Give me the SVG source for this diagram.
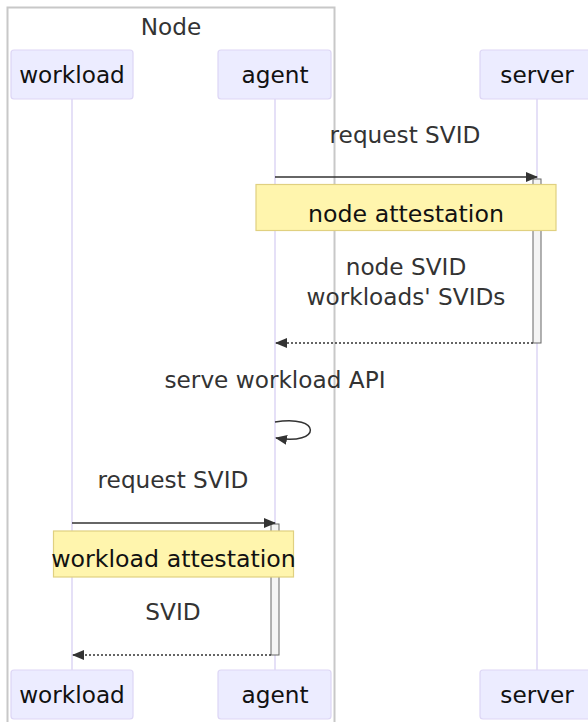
<svg xmlns="http://www.w3.org/2000/svg" width="588" height="722" viewBox="0 0 588 722">
  <style>
    text { font-family: "DejaVu Sans", "Liberation Sans", sans-serif; text-anchor: middle; }
    .actor rect { fill: #ececff; stroke: #ddd6f5; stroke-width: 1.2; }
    .actor text { font-size: 23.2px; fill: #111; }
    .lifeline { stroke: #ddd6f5; stroke-width: 1.5; }
    .msg-text { font-size: 23.2px; fill: #333; }
    .msg { stroke: #333; stroke-width: 1.5; fill: none; }
    .reply { stroke: #333; stroke-width: 1.5; stroke-dasharray: 2 2; fill: none; }
    .activation { fill: #f4f4f4; stroke: #666; stroke-width: 1; }
    .note rect { fill: #fff5ad; stroke: #e0d080; stroke-width: 1.2; }
    .note text { font-size: 23.7px; fill: #111; }
    .box-frame { fill: none; stroke: #c8c8c8; stroke-width: 2; }
    .box-label { font-size: 23.2px; fill: #333; }
  </style>
  <defs>
    <marker id="arrowhead" viewBox="0 0 12 10" refX="11" refY="5" markerUnits="userSpaceOnUse" markerWidth="12" markerHeight="10" orient="auto-start-reverse">
      <path d="M0,0 L12,5 L0,10 z" fill="#333"/>
    </marker>
  </defs>

  <rect width="588" height="722" fill="#ffffff"/>

  <!-- participant group "Node" -->
  <g id="box-node">
    <rect class="box-frame" x="7.5" y="7.5" width="327" height="730"/>
    <text class="box-label" x="171" y="35">Node</text>
  </g>

  <!-- lifelines -->
  <g id="lifelines">
    <line class="lifeline" x1="72" y1="99" x2="72" y2="670"/>
    <line class="lifeline" x1="275" y1="99" x2="275" y2="670"/>
    <line class="lifeline" x1="537" y1="99" x2="537" y2="670"/>
  </g>

  <!-- participants (top) -->
  <g id="workload-top" class="actor">
    <rect x="11" y="50" width="122" height="49" rx="3"/>
    <text x="72" y="83">workload</text>
  </g>
  <g id="agent-top" class="actor">
    <rect x="218" y="50" width="113" height="49" rx="3"/>
    <text x="275" y="83">agent</text>
  </g>
  <g id="server-top" class="actor">
    <rect x="480" y="50" width="114" height="49" rx="3"/>
    <text x="537" y="83">server</text>
  </g>

  <!-- participants (bottom) -->
  <g id="workload-bottom" class="actor">
    <rect x="11" y="670" width="122" height="49" rx="3"/>
    <text x="72" y="703">workload</text>
  </g>
  <g id="agent-bottom" class="actor">
    <rect x="218" y="670" width="113" height="49" rx="3"/>
    <text x="275" y="703">agent</text>
  </g>
  <g id="server-bottom" class="actor">
    <rect x="480" y="670" width="114" height="49" rx="3"/>
    <text x="537" y="703">server</text>
  </g>

  <!-- activations -->
  <g id="activations">
    <rect class="activation" x="533" y="179" width="8" height="164"/>
    <rect class="activation" x="271" y="524" width="8" height="131"/>
  </g>

  <!-- messages -->
  <g id="connectors">
    <text class="msg-text" x="405" y="143">request SVID</text>
    <line class="msg" x1="275" y1="177" x2="537" y2="177" marker-end="url(#arrowhead)"/>

    <text class="msg-text" x="406" y="275">node SVID</text>
    <text class="msg-text" x="406" y="305">workloads' SVIDs</text>
    <line class="reply" x1="533" y1="343" x2="276" y2="343" marker-end="url(#arrowhead)"/>

    <text class="msg-text" x="275" y="388">serve workload API</text>
    <path class="msg" d="M275,422 C322,414 322,446 276,438" marker-end="url(#arrowhead)"/>

    <text class="msg-text" x="173" y="488">request SVID</text>
    <line class="msg" x1="72" y1="523" x2="275" y2="523" marker-end="url(#arrowhead)"/>

    <text class="msg-text" x="173" y="620">SVID</text>
    <line class="reply" x1="271" y1="655" x2="73" y2="655" marker-end="url(#arrowhead)"/>
  </g>

  <!-- notes -->
  <g id="note-node-attestation" class="note">
    <rect x="256" y="184.5" width="300" height="46"/>
    <text x="406" y="221.5">node attestation</text>
  </g>
  <g id="note-workload-attestation" class="note">
    <rect x="53.5" y="531" width="240" height="46"/>
    <text x="173.5" y="566.5">workload attestation</text>
  </g>
</svg>
